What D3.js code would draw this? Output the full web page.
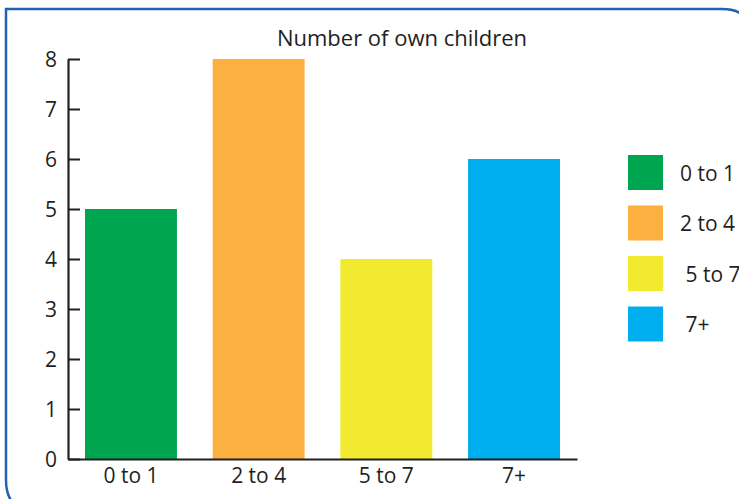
<!DOCTYPE html>
<html>
<head>
<meta charset="utf-8">
<script src="https://cdn.jsdelivr.net/npm/d3@7"></script>
<style>
  html, body { margin: 0; padding: 0; background: #fff; }
  svg { display: block; }
  text { font-family: "Open Sans", "Lato", sans-serif; fill: #231f20; }
</style>
</head>
<body>
<svg id="chart" width="739" height="499"></svg>
<script>
// Number of own children, by age group
const categories = ["0 to 1", "2 to 4", "5 to 7", "7+"];
const values = [5, 8, 4, 6];
const colors = ["#00a54f", "#fbb040", "#f2ea2f", "#00aeef"];
const yTicks = [0, 1, 2, 3, 4, 5, 6, 7, 8];
const legendLabels = ["0 to 1", "2 to 4", " 5 to 7", " 7+"];
const title = "Number of own children";

const svg = d3.select("#chart");

// Frame: square top-left, rounded top-right and bottom-left
const fx0 = 6, fy0 = 9, fx1 = 752, fy1 = 512, rTR = 30, rBL = 32;
svg.append("path")
  .attr("d", `M${fx0},${fy0} L${fx1 - rTR},${fy0} Q${fx1},${fy0} ${fx1},${fy0 + rTR} L${fx1},${fy1} L${fx0 + rBL},${fy1} Q${fx0},${fy1} ${fx0},${fy1 - rBL} Z`)
  .attr("fill", "none")
  .attr("stroke", "#1f64b0")
  .attr("stroke-width", 2.5);

const x = d3.scaleBand()
  .domain(categories)
  .range([68, 577])
  .paddingInner(0.28)
  .paddingOuter(0.133);

const y = d3.scaleLinear()
  .domain([0, 8])
  .range([459, 59]);

// Bars
svg.append("g")
  .selectAll("rect")
  .data(values)
  .join("rect")
  .attr("x", (d, i) => x(categories[i]))
  .attr("y", d => y(d))
  .attr("width", x.bandwidth())
  .attr("height", d => y(0) - y(d))
  .attr("fill", (d, i) => colors[i]);

// Y axis with inward ticks
const yAxis = svg.append("g")
  .attr("transform", "translate(68,0)")
  .call(d3.axisRight(y).tickValues(yTicks).tickSize(12).tickSizeOuter(0).tickFormat(d3.format("d")));
yAxis.select(".domain").attr("stroke", "#231f20").attr("stroke-width", 2.2);
yAxis.selectAll(".tick line").attr("stroke", "#231f20").attr("stroke-width", 2);
yAxis.selectAll(".tick text")
  .attr("x", -11)
  .attr("text-anchor", "end")
  .attr("font-size", 21)
  .attr("dy", "0.36em");

// X axis baseline and category labels
const xAxis = svg.append("g")
  .attr("transform", "translate(0,459)")
  .call(d3.axisBottom(x).tickSize(0).tickSizeOuter(0).tickPadding(6));
xAxis.select(".domain").attr("stroke", "#231f20").attr("stroke-width", 2.2);
xAxis.selectAll(".tick text").attr("font-size", 21).attr("dy", "0.85em");

// Title
svg.append("text")
  .attr("x", 402)
  .attr("y", 46)
  .attr("text-anchor", "middle")
  .attr("font-size", 22)
  .text(title);

// Legend
const legend = svg.append("g")
  .selectAll("g")
  .data(legendLabels)
  .join("g")
  .attr("transform", (d, i) => `translate(628,${155 + i * 50.5})`);
legend.append("rect")
  .attr("width", 35)
  .attr("height", 35)
  .attr("fill", (d, i) => colors[i]);
legend.append("text")
  .attr("x", 52)
  .attr("y", 18)
  .attr("dy", "0.36em")
  .attr("font-size", 21)
  .attr("xml:space", "preserve")
  .style("white-space", "pre")
  .text(d => d);
</script>
</body>
</html>
